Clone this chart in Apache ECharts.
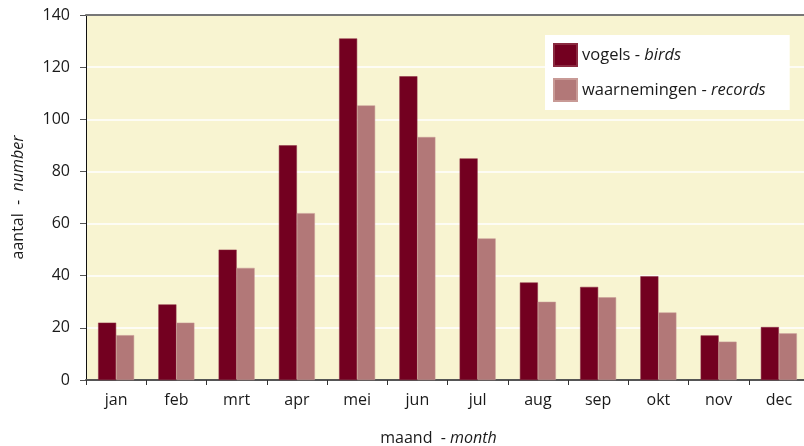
<!DOCTYPE html>
<html><head><meta charset="utf-8">
<script src="https://cdn.jsdelivr.net/npm/echarts@6/dist/echarts.min.js"></script>
<style>html,body{margin:0;padding:0;background:#fff}#c{width:804px;height:446px}</style>
</head><body><div id="c"></div>
<script>
const months = ['jan','feb','mrt','apr','mei','jun','jul','aug','sep','okt','nov','dec'];
const birds = [22, 29, 50, 90, 131, 116.5, 85, 37.4, 35.7, 39.8, 17.1, 20.3];
const records = [17.2, 22, 43, 64, 105.3, 93.2, 54.3, 30, 31.7, 25.9, 14.7, 17.9];
const yTicks = [0, 20, 40, 60, 80, 100, 120, 140];

const font = '"Open Sans", "Noto Sans", sans-serif';
const chart = echarts.init(document.getElementById('c'), null, {renderer: 'canvas'});
chart.setOption({
  animation: false,
  textStyle: {fontFamily: font},
  grid: {left: 86, top: 15, width: 723, bottom: 66, show: true, backgroundColor: '#F8F4D1', borderWidth: 0,
    containLabel: false, outerBoundsMode: 'none'},
  legend: {
    orient: 'vertical', left: 545, top: 35,
    backgroundColor: '#fff', padding: [8, 24, 8, 8], itemGap: 11,
    itemWidth: 23, itemHeight: 22, icon: 'rect',
    textStyle: {fontSize: 16.5, color: '#1a1a1a', fontFamily: font,
      rich: {n: {fontSize: 16.5, color: '#1a1a1a'}, i: {fontSize: 16.5, color: '#1a1a1a', fontStyle: 'italic'}}},
    formatter: function (name) {
      return name === 'vogels' ? '{n|vogels - }{i|birds}' : '{n|waarnemingen - }{i|records}';
    },
    data: ['vogels', 'waarnemingen']
  },
  xAxis: [{
    type: 'category', data: months,
    axisLine: {lineStyle: {color: '#555', width: 2}},
    axisTick: {show: true, length: 5, alignWithLabel: false, lineStyle: {color: '#333'}},
    axisLabel: {fontSize: 16, color: '#1a1a1a', margin: 12},
    name: '{a|maand  - }{b|month}', nameLocation: 'middle', nameGap: 50,
    nameTextStyle: {padding: [0, 18, 0, 0], rich: {a: {fontSize: 16, color: '#1a1a1a'}, b: {fontSize: 16, color: '#1a1a1a', fontStyle: 'italic'}}}
  }, {
    type: 'category', position: 'top', data: months,
    axisLine: {lineStyle: {color: '#777', width: 2}},
    axisTick: {show: false}, axisLabel: {show: false}
  }],
  yAxis: {
    type: 'value', min: 0, max: 140, interval: 20,
    axisLine: {show: true, lineStyle: {color: '#111', width: 1}},
    axisTick: {show: true, length: 6, lineStyle: {color: '#555'}},
    axisLabel: {fontSize: 16, color: '#1a1a1a', margin: 16,
      formatter: v => yTicks.includes(v) ? String(v) : ''},
    splitLine: {lineStyle: {color: '#ffffff', width: 1.5}},
    name: '{a|aantal  -  }{b|number}', nameLocation: 'middle', nameGap: 60, nameRotate: 90,
    nameTextStyle: {rich: {a: {fontSize: 16, color: '#1a1a1a'}, b: {fontSize: 16, color: '#1a1a1a', fontStyle: 'italic'}}}
  },
  series: [{
    name: 'vogels', type: 'bar', data: birds, barWidth: 18, barGap: '0%',
    itemStyle: {color: '#730020', borderColor: '#8a2a40', borderWidth: 0.5}
  }, {
    name: 'waarnemingen', type: 'bar', data: records, barWidth: 18, barGap: '0%',
    itemStyle: {color: '#B27878', borderColor: '#c89a96', borderWidth: 0.5}
  }]
});
</script>
</body></html>
